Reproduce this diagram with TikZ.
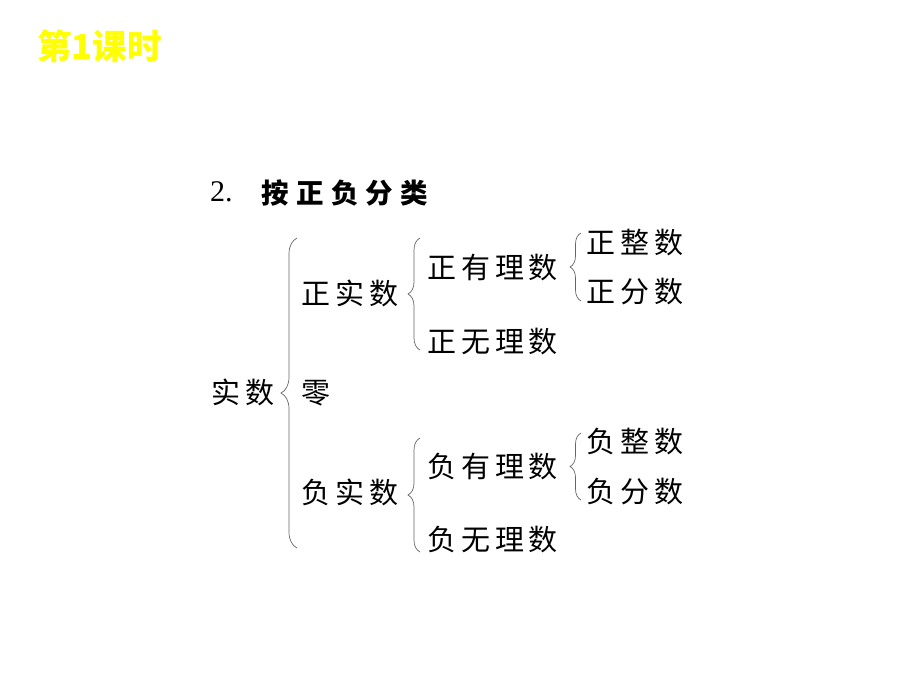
\documentclass[tikz,border=0pt]{standalone}
\usepackage{fontspec}
\setmainfont{Liberation Serif}
\newfontfamily\cjk[LetterSpace=17]{Noto Sans CJK SC}
\newfontfamily\cjkhead[LetterSpace=27]{Noto Sans CJK SC}
\newfontfamily\cjktitle{Noto Sans CJK SC}
\usetikzlibrary{positioning, decorations.pathreplacing}
\definecolor{titleyellow}{RGB}{255,255,0}

\begin{document}
\begin{tikzpicture}[
    x=1pt, y=-1pt,
    % text styles
    item/.style={inner sep=0pt, anchor=west, font=\cjk\fontsize{29}{31}\selectfont},
    headtext/.style={inner sep=0pt, anchor=west, font=\cjkhead\bfseries\fontsize{27.5}{30}\selectfont},
    titletext/.style={inner sep=0pt, anchor=west, text=titleyellow, font=\cjktitle\bfseries\fontsize{34.5}{36}\selectfont},
    % brace style
    brc/.style={draw=black!60, line width=0.7pt, decorate, decoration={brace, amplitude=#1}},
    brc/.default=11pt
]
\useasboundingbox (0,0) rectangle (920,690);

% Title and heading
\node[titletext] (title) at (37,46) {第1课时};
\node[inner sep=0pt, anchor=west, font=\fontsize{30}{31}\selectfont] (headnum) at (210,192) {2.};
\node[headtext] (heading) at (261,193) {按正负分类};

% First level
\node[item] (real) at (211,392) {实数};
\node[item] (pos) at (301,293) {正实数};
\node[item] (zero) at (301,393) {零};
\node[item] (neg) at (301,492) {负实数};

% Second level
\node[item] (posrat) at (427,268) {正有理数};
\node[item] (posirr) at (427,342) {正无理数};
\node[item] (negrat) at (427,467) {负有理数};
\node[item] (negirr) at (427,540) {负无理数};

% Third level
\node[item] (posint) at (586,243) {正整数};
\node[item] (posfrac) at (586,292) {正分数};
\node[item] (negint) at (586,442) {负整数};
\node[item] (negfrac) at (586,492) {负分数};

% Brace end points
\coordinate (realtop) at (297,238);
\coordinate (realbot) at (297,548);
\coordinate (postop) at (420,238);
\coordinate (posbot) at (420,350);
\coordinate (negtop) at (420,438);
\coordinate (negbot) at (420,552);
\coordinate (posrattop) at (581,233);
\coordinate (posratbot) at (581,301);
\coordinate (negrattop) at (581,433);
\coordinate (negratbot) at (581,500);

% Braces
\draw[brc=16pt] (realbot) -- (realtop);
\foreach \b in {pos,neg} {
    \draw[brc=12pt] (\b bot) -- (\b top);
}
\foreach \b in {posrat,negrat} {
    \draw[brc] (\b bot) -- (\b top);
}

\end{tikzpicture}
\end{document}
